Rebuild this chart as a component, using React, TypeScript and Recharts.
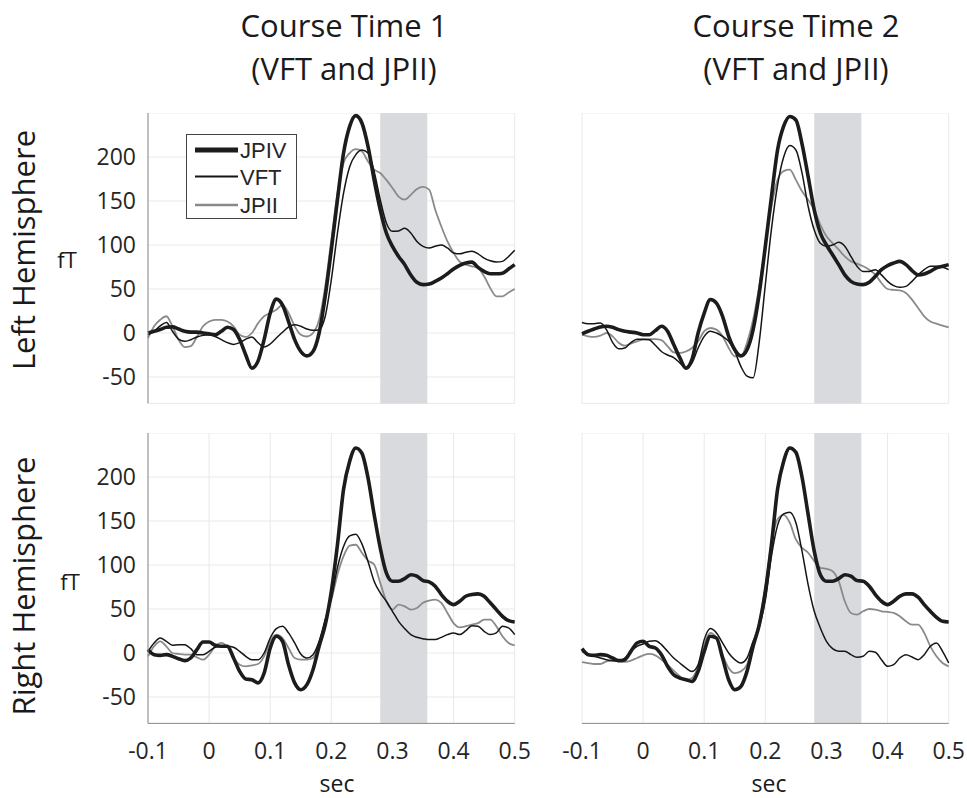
import { CartesianGrid, Line, LineChart, ReferenceArea, XAxis, YAxis } from "recharts";

// time axis (sec), one sample every 10 ms
const sec = [
  -0.1, -0.09, -0.08, -0.07, -0.06, -0.05, -0.04, -0.03, -0.02, -0.01,
  0, 0.01, 0.02, 0.03, 0.04, 0.05, 0.06, 0.07, 0.08, 0.09,
  0.1, 0.11, 0.12, 0.13, 0.14, 0.15, 0.16, 0.17, 0.18, 0.19,
  0.2, 0.21, 0.22, 0.23, 0.24, 0.25, 0.26, 0.27, 0.28, 0.29,
  0.3, 0.31, 0.32, 0.33, 0.34, 0.35, 0.36, 0.37, 0.38, 0.39,
  0.4, 0.41, 0.42, 0.43, 0.44, 0.45, 0.46, 0.47, 0.48, 0.49, 0.5,
];
const xTicks = [-0.1, 0, 0.1, 0.2, 0.3, 0.4, 0.5];
const yTicks = [-50, 0, 50, 100, 150, 200];
const windowStart = 0.28;
const windowEnd = 0.357;

// Left hemisphere, course time 1
const leftJpiv1 = [
  0, 2, 4, 6.5, 7, 4.5, 2, 1, 1, 0, -1, -2, 2, 6.5, 4, -7.5, -25, -40, -32, -7.6,
  22.7, 38.5, 32, 13, -7.6, -21, -26, -21, 0, 41.7, 94.7, 151.5, 204.5, 234.8, 247, 238.6, 212, 174, 140, 113.6,
  98.5, 87, 77.7, 66, 57.6, 55, 55.7, 58.7, 62.5, 67.4, 72.7, 76.9, 79.5, 80.5, 74.6, 70, 67.4, 67.4, 68, 72.7, 77.7,
];
const leftVft1 = [
  -2, 2, 8, 12, 2, -7, -9.5, -7.6, -4.5, -2.7, -2, -4, -7.6, -11, -13, -11, -7, -4.5, -11, -16,
  -12.5, -5.7, 0.8, 6.8, 9.5, 7.6, 4.5, 3, 3.8, 19, 60.6, 113.6, 159, 189, 202.7, 208, 204.5, 183.7, 151.5, 125,
  115.5, 116, 119, 113.6, 104, 98.5, 96.6, 98.5, 100, 96.6, 91, 90, 91.7, 92.8, 90, 85, 82, 80.7, 81.4, 87, 94,
];
const leftJpii1 = [
  -5.7, 7.6, 15, 19, 7.6, -7.6, -16, -15, -4.5, 7.6, 13, 15, 15, 13, 7.6, -2, -4.5, 0, 11, 19,
  22.7, 26.5, 32, 22.7, 7.6, -2, -4, 0, 15, 53, 106, 159, 193, 204.5, 209, 206.4, 195, 185.6, 181.8, 174,
  164.8, 155, 151.5, 157, 163.6, 166, 163, 140, 121, 104, 91, 81, 77.7, 75.8, 73.9, 64.4, 51, 41.7, 41.7, 46, 50,
];

// Left hemisphere, course time 2
const leftJpiv2 = [
  -1, 2, 4.5, 6.8, 7.6, 6.4, 3.8, 2, 1, 0, -2, -2, 2.7, 7.6, 2, -13, -28, -40, -30, 0,
  22.7, 38, 34, 19, -3.8, -19, -26, -19, 3.8, 45, 98.5, 155, 208, 235, 246, 242, 215, 178, 140, 113.6,
  100, 89, 77.7, 66, 58.7, 55.7, 55, 57.6, 64.4, 72, 76.5, 79.5, 81.4, 77.7, 71, 66, 67, 70, 74, 75.8, 77.7,
];
const leftVft2 = [
  12, 10.6, 10.6, 11.4, 3.8, -10.6, -18, -17, -11, -7, -7, -7.6, -14, -21, -25, -28, -34, -40, -34, -17,
  -3.8, 2, 0, -3.8, -9.5, -21, -38, -49, -51, -10, 55, 118, 168, 200, 213, 208, 182, 144, 117, 102,
  98.5, 100, 103, 98.5, 87, 75.8, 70, 70, 72, 66, 58.7, 53.8, 52, 53, 58.7, 66, 72, 75.8, 75.8, 74.6, 72,
];
const leftJpii2 = [
  -2, -3.8, -4.5, -3, 0, -3.8, -11, -14.4, -12, -9.5, -7.6, -7, -7, -8, -15, -22, -22.7, -21, -17, -9.5,
  2, 5.7, 3.8, -3.8, -17, -26.5, -26.5, -11, 15, 53, 98.5, 144, 174, 184, 185.6, 174, 161, 151.5, 140, 123,
  110, 102, 94.7, 87, 81.4, 78.8, 75.8, 72, 66.3, 56.8, 50, 49, 48.5, 45.5, 37.9, 28.4, 19, 13, 10.6, 8.3, 6.4,
];

// Right hemisphere, course time 1
const rightJpiv1 = [
  3.8, -1.9, -2.7, -1.9, -3.8, -6.5, -8.7, -5.7, 3.8, 12.5, 12.5, 8.7, 7.6, 7.6, -5.7, -20.9, -29.6, -30.4, -34, -22.8,
  5.7, 19, 13.3, -13.3, -34, -41.7, -36, -19, 7.6, 32, 70, 123, 186, 218, 233, 227, 199, 157.5, 119.5, 91,
  81.6, 81.6, 84.6, 89, 87.3, 82.3, 80.8, 75.9, 66.4, 58.8, 55, 58.8, 64.5, 66.4, 67.2, 64.5, 57, 49.3, 41.7, 36.8, 35.3,
];
const rightVft1 = [
  1.9, 11.4, 17, 13.3, 8.7, 9.5, 9.5, 4.9, -1.9, -1.9, 1.9, 6.5, 7.6, 7.6, 6.5, 1.9, -3.8, -7.6, -7.6, 0,
  17, 27.7, 30.4, 22.8, 11.4, -1.1, -5.7, -1.9, 13.3, 38, 62, 97, 121, 133, 135, 124, 104, 81.6, 68.3, 58.8,
  47.4, 36, 27.7, 20.9, 17.8, 16.3, 15.2, 15.2, 17.8, 20.9, 22.8, 20.9, 25.4, 31.1, 30.4, 24.7, 20.9, 22.8, 30.4, 28.5, 20.9,
];
const rightJpii1 = [
  -3.8, 7.6, 13.3, 7.6, 0, -1.1, -1.9, -1.9, -4.9, -7.6, -1.9, 7.6, 11.4, 6.5, -5.7, -13.3, -15.2, -14, -12.5, -3.8,
  13.3, 20.9, 17, 5.7, -5.7, -7.6, -7.6, -5.7, 11.4, 36, 60, 89, 110, 122, 123, 114, 105, 100.6, 79.7, 58.8,
  49.3, 55, 53, 49.3, 51.2, 57, 59.6, 60.7, 57, 45.5, 34, 29.2, 30.4, 32.3, 34, 38, 38, 30.4, 19, 11.4, 8.7,
];

// Right hemisphere, course time 2
const rightJpiv2 = [
  4.9, -1.9, -2.7, -1.9, -2.7, -5.7, -8.7, -7.6, 1.9, 11.4, 13.3, 7.6, 5.7, -1.9, -15.2, -24.7, -28.5, -30.4, -32.3, -20.9,
  1.9, 19, 17, -5.7, -30.4, -41.7, -38, -20.9, 7.6, 32, 70, 123, 186, 218, 233, 228, 200, 157.5, 115.8, 89,
  81.6, 81.6, 84.6, 89, 87.3, 82.3, 81.6, 75.9, 66.4, 58.8, 55, 58.8, 64.5, 67.2, 67.2, 63.4, 55, 47.4, 40.6, 36, 35.3,
];
const rightVft2 = [
  1.9, -1.9, -3.8, -5.7, -7.6, -8.7, -9.5, -5.7, 1.9, 7.6, 10.2, 13.3, 14, 9.5, 1.9, -5.7, -11.4, -17, -20.9, -13.3,
  15.2, 27.7, 22.8, 11.4, 0, -7.6, -11.4, -5.7, 13.3, 30, 60, 110, 145, 158, 160, 148, 115.8, 77.8, 47.4, 28.5,
  13.3, 4.9, 1.9, 1.9, -1.9, -4.9, -3.8, 1.9, 0.8, -7.6, -15.2, -13.3, -5.7, -1.9, -4.6, -7.6, -1.9, 7.6, 11.4, 1.9, -11.4,
];
const rightJpii2 = [
  -10.2, -11.4, -12.5, -12.5, -9.5, -8.7, -9.5, -10.2, -8.7, -5.7, -2.7, -1.1, -2.7, -7.6, -13.3, -20, -26.5, -30.4, -28.5, -15.2,
  9.5, 22.8, 17, -1.9, -17, -22.8, -20.9, -13.3, 9.5, 35, 75, 125, 152, 157, 148, 129, 119.5, 113.9, 104.4, 96.8,
  95.6, 93, 81.6, 58.8, 45.5, 43.6, 47.4, 50, 49.3, 47.4, 46.7, 45.5, 41.7, 36, 32.3, 32.3, 22.8, 7.6, -3.8, -11.4, -15.2,
];

const titles = ["Course Time 1", "Course Time 2"];
const subtitle = "(VFT and JPII)";
const rowLabels = ["Left Hemisphere", "Right Hemisphere"];

const PLOT_W = 366.7;
const PLOT_H = 290.4;
const PAD_L = 28;
const PAD_R = 18;
const font = "'Open Sans', 'DejaVu Sans', sans-serif";
const tickStyle = { fontFamily: font, fontSize: 23, fill: "#262626" };

function rows(jpiv: number[], vft: number[], jpii: number[]) {
  return sec.map((t, i) => ({ t, jpiv: jpiv[i], vft: vft[i], jpii: jpii[i] }));
}

function Panel({ left, top, data, showY, showX }: { left: number; top: number; data: Array<Record<string, number>>; showY: boolean; showX: boolean }) {
  const yw = showY ? 60 : 0;
  const ml = showY ? 0 : PAD_L;
  const xh = showX ? 50 : 0;
  return (
    <div style={{ position: "absolute", left: left - yw - ml, top }}>
      <LineChart width={ml + yw + PLOT_W + PAD_R} height={PLOT_H + xh} data={data} margin={{ top: 0, right: PAD_R, bottom: 0, left: ml }}>
        <CartesianGrid stroke="#e9e9e9" strokeWidth={1} />
        <ReferenceArea x1={windowStart} x2={windowEnd} fill="#d6d7da" fillOpacity={0.92} stroke="none" />
        <XAxis
          dataKey="t"
          type="number"
          domain={[-0.1, 0.5]}
          ticks={xTicks}
          height={xh}
          tick={showX ? tickStyle : false}
          tickLine={false}
          tickSize={0}
          tickMargin={19}
          axisLine={{ stroke: "#8c8c8c" }}
        />
        <YAxis
          type="number"
          domain={[-80, 250]}
          ticks={yTicks}
          width={yw}
          tick={showY ? tickStyle : false}
          tickLine={false}
          tickSize={0}
          tickMargin={12}
          axisLine={{ stroke: "#8c8c8c" }}
        />
        <Line type="monotone" dataKey="jpii" stroke="#8a8a8a" strokeWidth={1.8} dot={false} isAnimationActive={false} />
        <Line type="monotone" dataKey="vft" stroke="#151515" strokeWidth={1.5} dot={false} isAnimationActive={false} />
        <Line type="monotone" dataKey="jpiv" stroke="#1c1c1c" strokeWidth={3.6} dot={false} isAnimationActive={false} />
      </LineChart>
    </div>
  );
}

export default function App() {
  return (
    <div style={{ position: "absolute", left: 0, top: 0, width: 967, height: 798, background: "#fff" }}>
      <Panel left={148.3} top={113.3} data={rows(leftJpiv1, leftVft1, leftJpii1)} showY showX={false} />
      <Panel left={582.3} top={113.3} data={rows(leftJpiv2, leftVft2, leftJpii2)} showY={false} showX={false} />
      <Panel left={148.3} top={433.3} data={rows(rightJpiv1, rightVft1, rightJpii1)} showY showX />
      <Panel left={582.3} top={433.3} data={rows(rightJpiv2, rightVft2, rightJpii2)} showY={false} showX />

      <svg width={111} height={85} style={{ position: "absolute", left: 185.7, top: 134.3 }}>
        <rect x={0.5} y={0.5} width={110} height={84} fill="#fff" stroke="#444" strokeWidth={1} />
        <line x1={9} x2={52} y1={16} y2={16} stroke="#1c1c1c" strokeWidth={4.8} />
        <line x1={9} x2={52} y1={42.5} y2={42.5} stroke="#151515" strokeWidth={1.9} />
        <line x1={9} x2={52} y1={71} y2={71} stroke="#8a8a8a" strokeWidth={2.4} />
        <g fontFamily="'Liberation Sans', Arial, sans-serif" fontSize={22} fill="#262626">
          <text x={54} y={24}>JPIV</text>
          <text x={54} y={50.5}>VFT</text>
          <text x={54} y={79}>JPII</text>
        </g>
      </svg>

      <svg width={967} height={798} style={{ position: "absolute", left: 0, top: 0, pointerEvents: "none" }}>
        <g fontFamily={font} fill="#1a1a1a" textAnchor="middle">
          <text x={344} y={37} fontSize={31}>{titles[0]}</text>
          <text x={344} y={80} fontSize={31}>{subtitle}</text>
          <text x={796} y={37} fontSize={31}>{titles[1]}</text>
          <text x={796} y={80} fontSize={31}>{subtitle}</text>
          <text transform="translate(35,250) rotate(-90)" fontSize={31}>{rowLabels[0]}</text>
          <text transform="translate(35,586) rotate(-90)" fontSize={31}>{rowLabels[1]}</text>
          <text x={67} y={268} fontSize={22}>fT</text>
          <text x={70} y={590} fontSize={22}>fT</text>
          <text x={337} y={792} fontSize={23}>sec</text>
          <text x={769} y={792} fontSize={23}>sec</text>
        </g>
      </svg>
    </div>
  );
}
